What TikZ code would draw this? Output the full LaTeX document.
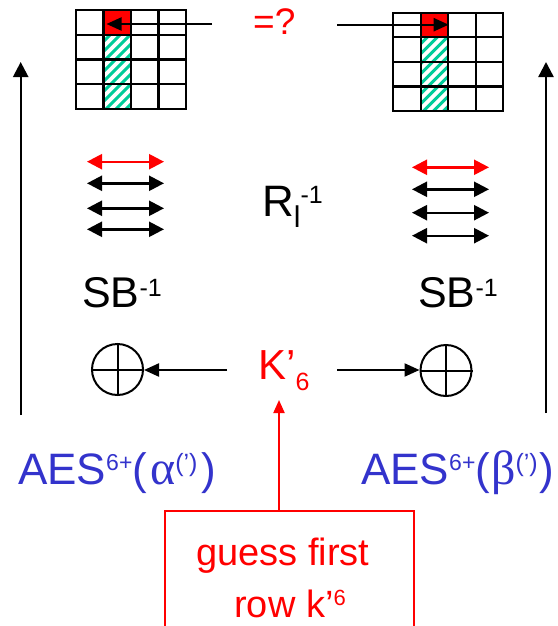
\documentclass[tikz,border=0pt]{standalone}
\usepackage{fontspec}
\setmainfont{Liberation Sans}
\newfontfamily\grk{Liberation Serif}
\usetikzlibrary{arrows.meta}
\definecolor{aesblue}{RGB}{51,51,204}
\definecolor{hatchc}{RGB}{0,204,153}
\newcommand\fs[1]{\fontsize{#1}{#1}\selectfont}
\newcommand\rse[3]{\raisebox{#1pt}{\fs{#2}#3}}
\begin{document}
\begin{tikzpicture}[x=1pt,y=-1pt,
  gridline/.style={line width=2.2pt,line cap=rect},
  redcell/.style={fill=red,minimum width=27.5pt,minimum height=24.7pt,inner sep=0pt,anchor=north west},
  stripe/.style={hatchc,line width=3pt},
  blk/.style={line width=2.4pt,-{Triangle[length=15pt,width=15pt]}},
  thinblk/.style={line width=2.2pt,-{Triangle[length=15pt,width=13pt]}},
  dbl/.style={line width=2.4pt,{Triangle[length=15pt,width=15pt]}-{Triangle[length=15pt,width=15pt]}},
  xorc/.style={circle,draw,line width=2pt,minimum size=51pt,inner sep=0pt},
  lbl/.style={inner sep=0pt,anchor=base west},
  lblc/.style={inner sep=0pt,anchor=base},
]
\useasboundingbox (0,0) rectangle (557,626);

% ---- left grid ----
\begin{scope}[shift={(76,10)}]
  \node[redcell] (Lred) at (27.5,0) {};
  \begin{scope}
    \clip (27.5,24.75) rectangle (55,99);
    \foreach \i in {0,...,13} \draw[stripe] (-60+\i*10,99) -- ++(80,-80);
  \end{scope}
  \foreach \i in {0,...,4} {
    \draw[gridline] (\i*27.5,0) -- (\i*27.5,99);
    \draw[gridline] (0,\i*24.75) -- (110,\i*24.75);
  }
\end{scope}

% ---- right grid ----
\begin{scope}[shift={(393.3,12.7)}]
  \node[redcell] (Rred) at (27.5,0) {};
  \begin{scope}
    \clip (27.5,24.6) rectangle (55,98.4);
    \foreach \i in {0,...,13} \draw[stripe] (-60+\i*10,98.4) -- ++(80,-80);
  \end{scope}
  \foreach \i in {0,...,4} {
    \draw[gridline] (\i*27.5,0) -- (\i*27.5,98.4);
    \draw[gridline] (0,\i*24.6) -- (110,\i*24.6);
  }
\end{scope}

% ---- =? and top arrows ----
\node[lbl,text=red] (eq) at (253,35) {\fs{37}=?};
\coordinate (tlA) at (212,24);
\coordinate (trA) at (337,24.7);
\draw[thinblk] (tlA) -- ([xshift=3pt]Lred.west |- tlA);
\draw[thinblk] (trA) -- (Rred.east |- trA);

% ---- vertical arrows ----
\coordinate (vl0) at (20.7,415);
\coordinate (vl1) at (20.7,62);
\coordinate (vr0) at (546,413);
\coordinate (vr1) at (546,62);
\draw[blk] (vl0) -- (vl1);
\draw[blk] (vr0) -- (vr1);

% ---- double arrows ----
\foreach \y/\c [count=\k] in {161.7/red,183.3/black,208.3/black,229.3/black} {
  \coordinate (dl\k a) at (87,\y);
  \coordinate (dl\k b) at (164,\y);
  \draw[dbl,\c] (dl\k a) -- (dl\k b);
}
\foreach \y/\c [count=\k] in {167.3/red,189.3/black,212.7/black,235.7/black} {
  \coordinate (dr\k a) at (412,\y);
  \coordinate (dr\k b) at (489,\y);
  \draw[dbl,\c] (dr\k a) -- (dr\k b);
}

% ---- R_l^-1 ----
\node[lbl] (rl) at (262,216) {\fs{44}R\rse{-11}{30}{l}\rse{13}{25}{-1}};

% ---- SB^-1 ----
\node[lbl] (sbl) at (82,307) {\fs{43}SB\rse{11}{25}{-1}};
\node[lbl] (sbr) at (418,307) {\fs{43}SB\rse{11}{25}{-1}};

% ---- XOR ----
\node[xorc] (xl) at (117.5,369.5) {};
\draw[line width=2pt] (xl.north) -- (xl.south) (xl.west) -- (xl.east);
\node[xorc] (xr) at (446,370.5) {};
\draw[line width=2pt] (xr.north) -- (xr.south) (xr.west) -- (xr.east);

% ---- K'6 ----
\node[lbl,text=red] (kp) at (258,379) {\fs{42}K’\rse{-11}{25}{6}};
\coordinate (ka) at (227,370);
\coordinate (kb) at (337,370);
\draw[thinblk] (ka) -- (xl.east |- ka);
\draw[thinblk] (kb) -- (xr.west |- kb);

% ---- AES labels ----
\node[lbl,text=aesblue] (aesl) at (18,484) {\fs{44}AES\rse{14}{23}{6+}(\kern3pt{\grk\fs{48}α}\rse{13}{25}{(’)}\kern4pt)};
\node[lbl,text=aesblue] (aesr) at (361,484) {\fs{44}AES\rse{14}{23}{6+}(\kern1pt{\grk\fs{48}β}\rse{13}{25}{(’)}\kern2pt)};

% ---- guess box ----
\node[draw=red,line width=1.5pt,minimum width=249pt,minimum height=140pt,inner sep=0pt] (box) at (289.5,581) {};
\node[lblc,text=red] (g1) at (283,565) {\fs{38}guess first};
\node[lblc,text=red] (g2) at (290,617) {\fs{38}row k’\rse{12}{22}{6}};
\coordinate (bt) at (279,400);
\draw[red,line width=2pt,-{Triangle[length=13pt,width=11pt]}] (box.north -| bt) -- (bt);
\end{tikzpicture}
\end{document}
